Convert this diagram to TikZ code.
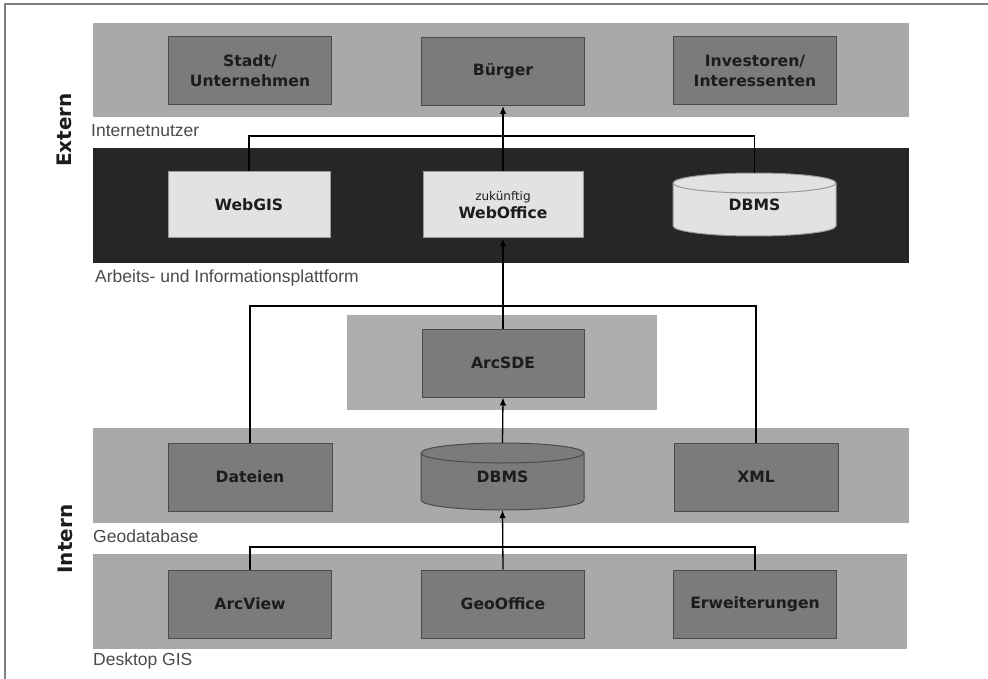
\documentclass[tikz,border=0pt]{standalone}
\usepackage{fontspec}
\setmainfont{Liberation Sans}
\newfontfamily\dvs{DejaVu Sans}
\usetikzlibrary{arrows.meta}
\definecolor{bandgray}{HTML}{A9A9A9}
\definecolor{midband}{HTML}{AEAEAE}
\definecolor{boxgray}{HTML}{7B7B7B}
\definecolor{boxborder}{HTML}{4A4A4A}
\definecolor{darkband}{HTML}{262626}
\definecolor{lightbox}{HTML}{E2E2E2}
\definecolor{lightborder}{HTML}{9A9A9A}
\definecolor{boxtext}{HTML}{1C1C1C}
\definecolor{labeltext}{HTML}{4A4A4A}
\definecolor{framegray}{HTML}{808080}
\tikzset{
  band/.style={draw=none, fill=bandgray, minimum width=816pt, minimum height=95pt, inner sep=0pt},
  dbox/.style={draw=boxborder, line width=1pt, fill=boxgray, minimum width=163pt, minimum height=68pt,
    inner sep=0pt, align=center, text=boxtext, font=\dvs\bfseries\fontsize{15.6}{20}\selectfont},
  lbox/.style={dbox, fill=lightbox, draw=lightborder},
  cylnode/.style={draw=none, minimum width=163pt, inner sep=0pt, text=boxtext,
    font=\dvs\bfseries\fontsize{15.6}{20}\selectfont},
  cylshape/.style={line width=1pt},
  bandlabel/.style={anchor=base west, inner sep=0pt, text=labeltext, font=\fontsize{17.5}{20}\selectfont},
  sidelabel/.style={rotate=90, inner sep=0pt, text=boxtext, font=\dvs\bfseries\fontsize{20}{24}\selectfont},
  conn/.style={draw=black, line width=1.3pt},
  arr/.style={conn, -{Latex[length=8pt,width=6.5pt]}},
}
\begin{document}
\begin{tikzpicture}[x=1pt, y=-1pt]
\useasboundingbox (0,0) rectangle (988,679);
% frame
\draw[framegray, line width=1.4pt] (5,679) -- (5,4) -- (988,4);

% bands
\node[band, minimum height=94pt] (bandUsers) at (501,70) {};
\node[band, fill=darkband, minimum height=115pt] (bandPlatform) at (501,205.5) {};
\node[band, fill=midband, minimum width=310pt] (bandSDE) at (502,362.5) {};
\node[band] (bandGeo) at (501,475.5) {};
\node[band, minimum width=814pt] (bandDesk) at (500,601.5) {};

% band labels
\node[bandlabel] (lUsers) at (91,137) {Internetnutzer};
\node[bandlabel] (lPlatform) at (95,282) {Arbeits- und Informationsplattform};
\node[bandlabel] (lGeo) at (93,542.5) {Geodatabase};
\node[bandlabel] (lDesk) at (93,665) {Desktop GIS};

% side labels
\node[sidelabel] (extern) at (64,130) {Extern};
\node[sidelabel] (intern) at (65,539) {Intern};

% users
\node[dbox] (stadt) at (250,70.5) {Stadt/\\Unternehmen};
\node[dbox] (buerger) at (503,71.5) {Bürger};
\node[dbox] (invest) at (755,70.5) {Investoren/\\Interessenten};

% platform
\node[lbox, minimum width=162pt, minimum height=66pt] (webgis) at (249,205) {WebGIS};
\node[lbox, minimum width=160pt, minimum height=66pt] (weboffice) at (503,205)
  {{\dvs\mdseries\fontsize{12}{14}\selectfont zukünftig}\\[-2pt]WebOffice};
% cylinder (platform)
\filldraw[cylshape, fill=lightbox, draw=lightborder]
  (673,183) -- (673,226) arc[start angle=180, end angle=360, x radius=81.5pt, y radius=10pt]
  -- (836,183) arc[start angle=0, end angle=180, x radius=81.5pt, y radius=10pt] -- cycle;
\draw[cylshape, draw=lightborder] (673,183) arc[start angle=180, end angle=360, x radius=81.5pt, y radius=10pt];
\node[cylnode, minimum height=63pt] (dbmsT) at (754.5,204.5) {\raisebox{-5pt}{DBMS}};

% ArcSDE
\node[dbox, minimum width=162pt] (arcsde) at (503,363) {ArcSDE};

% geodatabase
\node[dbox, minimum width=164pt] (dateien) at (250,477) {Dateien};
\filldraw[cylshape, fill=boxgray, draw=boxborder]
  (421,453) -- (421,500) arc[start angle=180, end angle=360, x radius=81.5pt, y radius=10pt]
  -- (584,453) arc[start angle=0, end angle=180, x radius=81.5pt, y radius=10pt] -- cycle;
\draw[cylshape, draw=boxborder] (421,453) arc[start angle=180, end angle=360, x radius=81.5pt, y radius=10pt];
\node[cylnode, minimum height=67pt] (dbmsG) at (502.5,476.5) {\raisebox{-5pt}{DBMS}};
\node[dbox, minimum width=164pt] (xml) at (756,477) {XML};

% desktop
\node[dbox] (arcview) at (250,604) {ArcView};
\node[dbox] (geooffice) at (503,604) {GeoOffice};
\node[dbox] (erw) at (755,604) {Erweiterungen};

% junction coordinates
\coordinate (j1) at (503,136);
\coordinate (j2) at (503,306);
\coordinate (j3) at (503,547);

% connectors
\draw[conn] (webgis.north) |- (j1) -| (dbmsT.north);
\draw[arr] (weboffice.north) -- (buerger.south);
\draw[conn] (dateien.north) |- (j2) -| (xml.north);
\draw[arr] (arcsde.north) -- (weboffice.south);
\draw[arr] (dbmsG.north) -- (arcsde.south);
\draw[conn] (arcview.north) |- (j3) -| (erw.north);
\draw[arr] (geooffice.north) -- (dbmsG.south);
\end{tikzpicture}
\end{document}
